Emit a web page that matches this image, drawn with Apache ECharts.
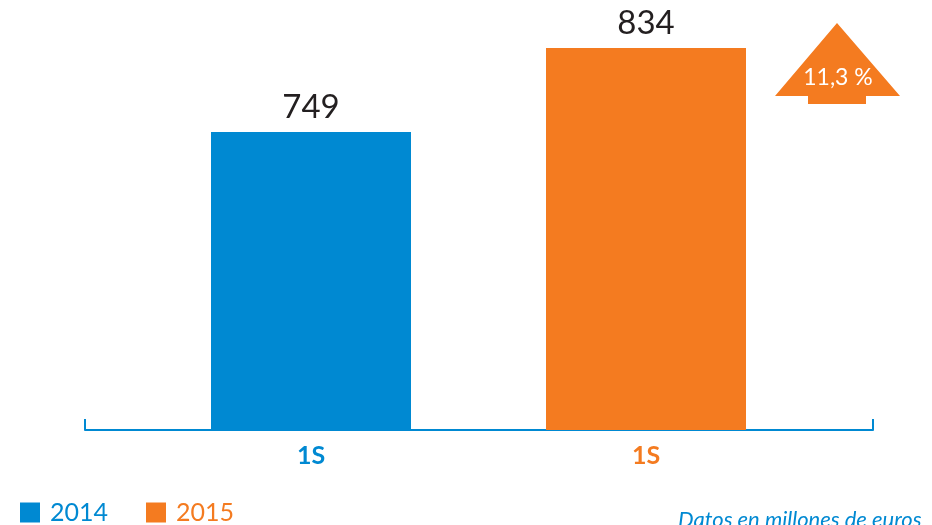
<!DOCTYPE html>
<html lang="es">
<head>
    <meta charset="UTF-8">
    <title>1S 2014 vs 1S 2015</title>
    <style type="text/css">
        *{
            margin: 0;
            padding: 0;
        }
        #main{
            width: 932px;
            height: 525px;
            background: #fff;
        }
    </style>
</head>
<body>
    <div id="main"></div>
    <script src="https://cdn.jsdelivr.net/npm/echarts@6/dist/echarts.min.js"></script>
    <script type="text/javascript">
        // datos
        var periods = ['1S', '1S'];
        var years = ['2014', '2015'];
        var values = [749, 834];
        var growthText = '11,3 %';
        var note = 'Datos en millones de euros';

        var colors = ['#0089D2', '#F47B20'];
        var font = 'Lato, "Noto Sans", sans-serif';

        var myChart = echarts.init(document.getElementById('main'));

        // ejes: una etiqueta por barra, con el color de su año
        var catData = periods.map(function (p, i) {
            return { value: p, textStyle: { color: colors[i] } };
        });

        var series = years.map(function (y, i) {
            var d = values.map(function (v, j) { return j === i ? v : '-'; });
            return {
                name: y,
                type: 'bar',
                xAxisIndex: 0,
                yAxisIndex: 0,
                data: d,
                barWidth: 200,
                barGap: '-100%',
                itemStyle: { color: colors[i] },
                label: {
                    show: true,
                    position: 'top',
                    distance: 8,
                    color: '#231f20',
                    fontSize: 33,
                    fontFamily: font
                },
                silent: true
            };
        });

        var option = {
            animation: false,
            grid: [
                { left: 143.5, right: 118.5, top: 48, bottom: 95 },
                { left: 85, right: 59, top: 48, bottom: 95 }
            ],
            xAxis: [{
                type: 'category',
                gridIndex: 0,
                data: catData,
                axisLine: { show: false },
                axisTick: { show: false },
                axisLabel: {
                    fontSize: 25,
                    fontWeight: 'bold',
                    fontFamily: font,
                    margin: 13
                }
            }, {
                type: 'category',
                gridIndex: 1,
                data: [''],
                axisLine: { lineStyle: { color: colors[0], width: 2 } },
                axisTick: { show: true, inside: true, length: 11, lineStyle: { color: colors[0], width: 2 } },
                axisLabel: { show: false }
            }],
            yAxis: [{
                type: 'value',
                gridIndex: 0,
                min: 448,
                max: 834,
                show: false
            }, {
                type: 'value',
                gridIndex: 1,
                show: false
            }],
            legend: {
                left: 20,
                top: 500,
                padding: 0,
                icon: 'rect',
                itemWidth: 20,
                itemHeight: 20,
                itemGap: 38,
                selectedMode: false,
                data: years.map(function (y, i) {
                    return { name: y, textStyle: { color: colors[i] } };
                }),
                textStyle: {
                    fontSize: 25,
                    fontFamily: font,
                    padding: [0, 0, 0, 5]
                }
            },
            graphic: [{
                type: 'polygon',
                shape: {
                    points: [[775, 96], [837, 23], [900, 96], [866, 96], [866, 104], [808, 104], [808, 96]]
                },
                style: { fill: colors[1] }
            }, {
                type: 'text',
                x: 838,
                y: 78,
                style: {
                    text: growthText,
                    fill: '#fff',
                    fontSize: 23,
                    fontFamily: font,
                    align: 'center',
                    verticalAlign: 'middle'
                }
            }, {
                type: 'text',
                left: 678,
                top: 509,
                style: {
                    text: note,
                    fill: colors[0],
                    fontSize: 22,
                    fontStyle: 'italic',
                    fontFamily: font
                }
            }],
            series: series
        };

        myChart.setOption(option);
    </script>
</body>
</html>
